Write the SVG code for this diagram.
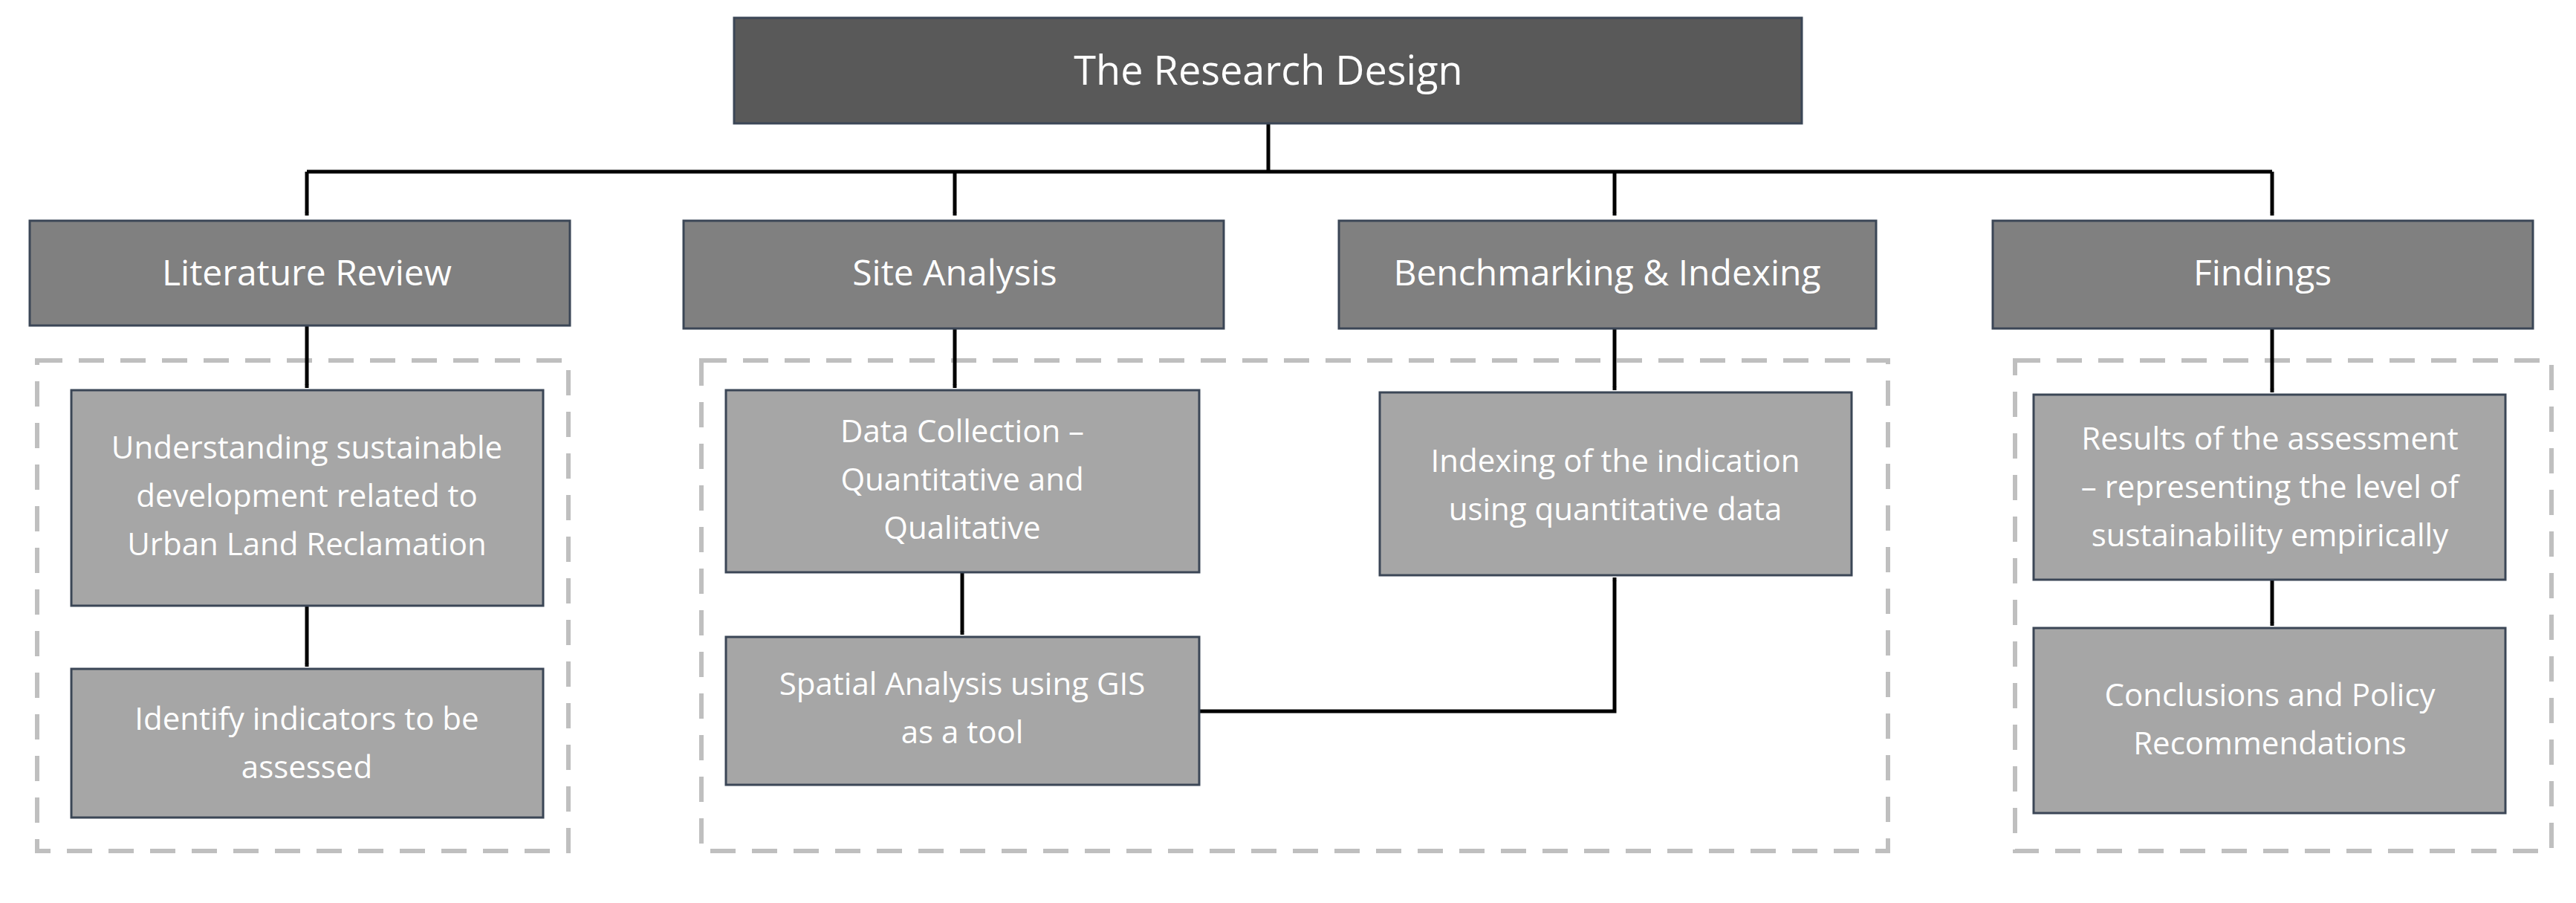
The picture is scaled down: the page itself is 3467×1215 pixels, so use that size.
<svg xmlns="http://www.w3.org/2000/svg" width="3467" height="1215" viewBox="0 0 3467 1215">
<defs>
<style>
.t{fill:#595959;stroke:#3b4656;stroke-width:3}
.h{fill:#808080;stroke:#3b4656;stroke-width:3}
.b{fill:#a6a6a6;stroke:#3b4656;stroke-width:3}
.d{fill:none;stroke:#bfbfbf;stroke-width:6;stroke-dasharray:34 22}
text{font-family:"Open Sans","Noto Sans",sans-serif;fill:#ffffff;text-anchor:middle}
.tt{font-size:54px}
.ht{font-size:48px}
.bt{font-size:42px}
.c{fill:none;stroke:#000;stroke-width:5}
</style>
<marker id="a" viewBox="0 0 10 10" refX="10" refY="5" markerWidth="5" markerHeight="6" markerUnits="userSpaceOnUse" orient="auto"><path d="M0,0L10,5L0,10z" fill="#000"/></marker>
</defs>
<rect width="3467" height="1215" fill="#fff"/>
<g id="containers">
<rect class="d" x="50" y="485" width="715" height="660"/>
<rect class="d" x="944" y="485" width="1597" height="660"/>
<rect class="d" x="2712" y="485" width="722" height="660"/>
</g>
<g id="connectors">
<path class="c" d="M1707,166V231M413,231H3058"/>
<path class="c" d="M413,231V290" marker-end="url(#a)"/>
<path class="c" d="M1285,231V290" marker-end="url(#a)"/>
<path class="c" d="M2173,231V290" marker-end="url(#a)"/>
<path class="c" d="M3058,231V290" marker-end="url(#a)"/>
<path class="c" d="M413,438V522" marker-end="url(#a)"/>
<path class="c" d="M413,815V897" marker-end="url(#a)"/>
<path class="c" d="M1285,442V522" marker-end="url(#a)"/>
<path class="c" d="M1295,770V854" marker-end="url(#a)"/>
<path class="c" d="M2173,442V525" marker-end="url(#a)"/>
<path class="c" d="M3058,442V528" marker-end="url(#a)"/>
<path class="c" d="M3058,780V842" marker-end="url(#a)"/>
<path class="c" d="M1614,957H2173V777" marker-end="url(#a)"/>
</g>
<g id="title"><rect class="t" x="988" y="24" width="1437" height="142"/><text class="tt" x="1707" y="114">The Research Design</text></g>
<g id="lit"><rect class="h" x="40" y="297" width="727" height="141"/><text class="ht" x="413" y="384">Literature Review</text></g>
<g id="site"><rect class="h" x="920" y="297" width="727" height="145"/><text class="ht" x="1285" y="384">Site Analysis</text></g>
<g id="bench"><rect class="h" x="1802" y="297" width="723" height="145"/><text class="ht" x="2163" y="384">Benchmarking &amp; Indexing</text></g>
<g id="find"><rect class="h" x="2682" y="297" width="727" height="145"/><text class="ht" x="3045" y="384">Findings</text></g>
<g id="und"><rect class="b" x="96" y="525" width="635" height="290"/><text class="bt" x="413" y="617">Understanding sustainable</text><text class="bt" x="413" y="682">development related to</text><text class="bt" x="413" y="747">Urban Land Reclamation</text></g>
<g id="ident"><rect class="b" x="96" y="900" width="635" height="200"/><text class="bt" x="413" y="982">Identify indicators to be</text><text class="bt" x="413" y="1047">assessed</text></g>
<g id="data"><rect class="b" x="977" y="525" width="637" height="245"/><text class="bt" x="1295" y="595">Data Collection –</text><text class="bt" x="1295" y="660">Quantitative and</text><text class="bt" x="1295" y="725">Qualitative</text></g>
<g id="spatial"><rect class="b" x="977" y="857" width="637" height="199"/><text class="bt" x="1295" y="935">Spatial Analysis using GIS</text><text class="bt" x="1295" y="1000">as a tool</text></g>
<g id="index"><rect class="b" x="1857" y="528" width="635" height="246"/><text class="bt" x="2174" y="635">Indexing of the indication</text><text class="bt" x="2174" y="700">using quantitative data</text></g>
<g id="results"><rect class="b" x="2737" y="531" width="635" height="249"/><text class="bt" x="3055" y="605">Results of the assessment</text><text class="bt" x="3055" y="670">– representing the level of</text><text class="bt" x="3055" y="735">sustainability empirically</text></g>
<g id="concl"><rect class="b" x="2737" y="845" width="635" height="249"/><text class="bt" x="3055" y="950">Conclusions and Policy</text><text class="bt" x="3055" y="1015">Recommendations</text></g>
</svg>
